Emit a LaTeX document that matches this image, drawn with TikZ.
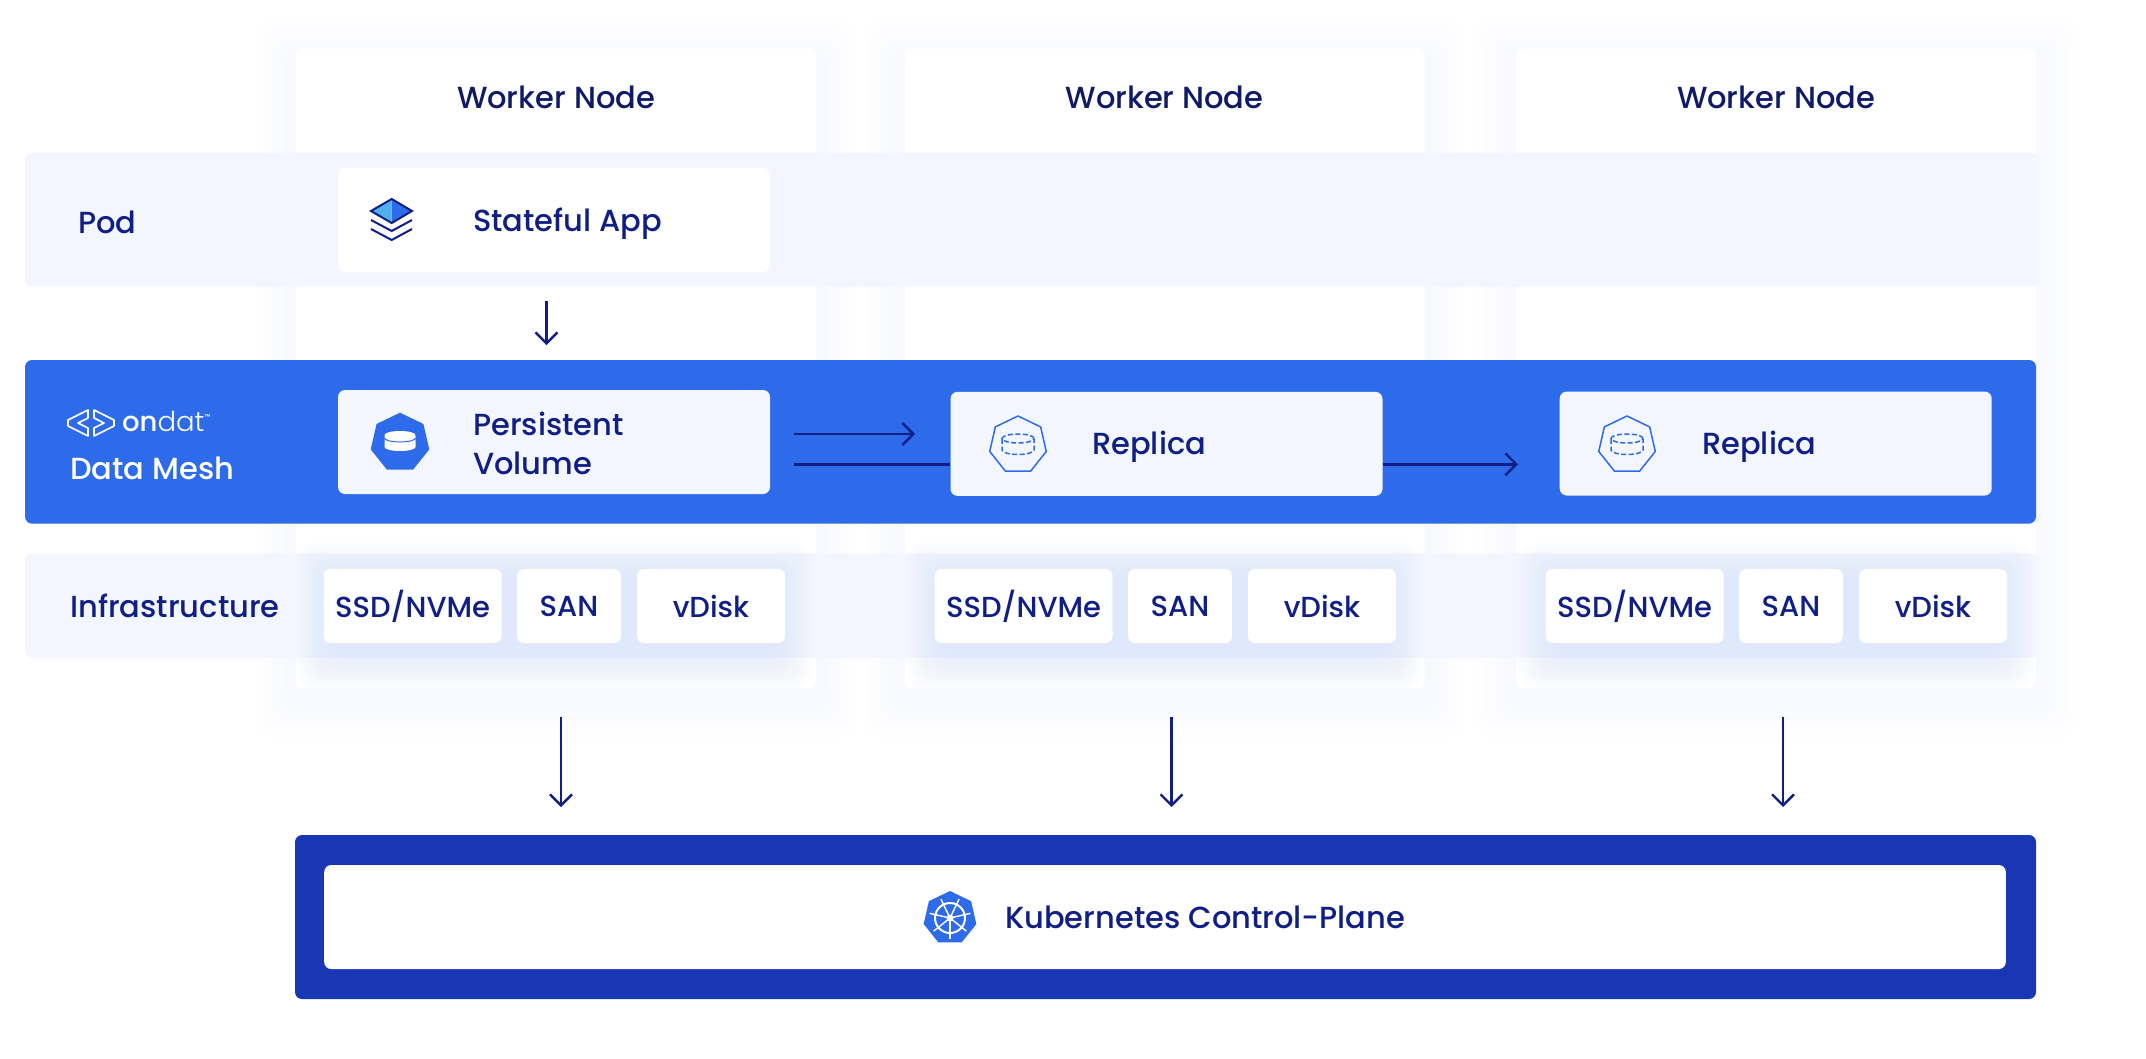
\documentclass[tikz,border=0pt]{standalone}
\usepackage{fontspec}
\setmainfont{Poppins Medium}
\newfontfamily\ondatlight{Poppins Light}
\usepackage{tikz}
\usetikzlibrary{arrows.meta,shapes.geometric}
\definecolor{navy}{HTML}{101F86}
\definecolor{inknavy}{HTML}{0F1A68}
\definecolor{paleband}{HTML}{F3F6FE}
\definecolor{meshblue}{HTML}{2D6BEA}
\definecolor{darkblue}{HTML}{1936B5}
\definecolor{skyblue}{HTML}{4FB0F0}
\definecolor{glow}{HTML}{D3E0FB}
\definecolor{faintglow}{HTML}{C8D4F8}
\tikzstyle{plainbox}=[rectangle,rounded corners=7pt,minimum width=#1,inner sep=0pt]
\tikzstyle{worker}=[plainbox=520pt,fill=white,minimum height=640pt]
\tikzstyle{band}=[plainbox=2014pt,fill=paleband]
\tikzstyle{tile}=[plainbox=432pt,minimum height=104pt]
\tikzstyle{disk}=[plainbox=#1,fill=white,minimum height=74pt,font=\fontsize{29}{34}\selectfont,text=navy]
\tikzstyle{label}=[anchor=west,inner sep=0pt,font=\fontsize{30.5}{36}\selectfont,text=navy]
\tikzstyle{heptagon}=[regular polygon,regular polygon sides=7,minimum size=60pt,inner sep=0pt]
\tikzstyle{flow} = [draw=navy,line width=2.4pt,-{Straight Barb[length=11pt,width=22pt]}]
\newcommand{\softglow}[8]{%
    \foreach \i in {1,...,#7}
        \fill[#5,opacity=#6,rounded corners=18pt] ({#1-#8*\i},{#2-#8*\i+10}) rectangle ({#3+#8*\i},{#4+#8*\i+10});
}
\begin{document}
\begin{tikzpicture}[x=1pt,y=-1pt]
    \useasboundingbox (0,0) rectangle (2146,1058);

    % worker columns
    \foreach \cx/ \name in {556/workerA,1164.5/workerB,1776/workerC} {
        \softglow{\cx-260}{49}{\cx+260}{688}{faintglow}{0.02}{8}{5}
        \node[worker] (\name) at (\cx,368.5) {};
        \node[font=\fontsize{30.5}{36}\selectfont,text=inknavy] (\name title) at (\cx,97) {Worker Node};
    }

    % rows
    \node[band,minimum height=133.5pt] (podband) at (1032,219.75) {};
    \node[band,minimum height=104pt] (infraband) at (1032,605.5) {};
    \node[plainbox=2011pt,fill=meshblue,minimum height=163.6pt] (meshband) at (1030.5,441.8) {};
    \node[plainbox=1741pt,fill=darkblue,minimum height=164pt] (controlband) at (1165.5,917) {};
    \node[plainbox=1681.6pt,fill=white,minimum height=104pt] (controlbox) at (1165,917) {};

    % tiles in the rows
    \node[tile,fill=white] (app) at (554,219.85) {};
    \foreach \pos/ \name in {{(554,442)/pv},{(1166.5,443.85)/replicaA},{(1775.7,443.5)/replicaB}}
        \node[tile,fill=paleband] (\name) at \pos {};

    \foreach \dx/ \col in {0/A,611/B,1222/C} {
        \softglow{333+\dx}{569}{775+\dx}{643}{glow}{0.05}{12}{3}
    }
    \foreach \dx/ \col in {0/A,611/B,1222/C} {
        \node[disk=178pt] (ssd\col) at (412.6+\dx,606) {SSD/NVMe};
        \node[disk=104pt] (san\col) at (569+\dx,606) {SAN};
        \node[disk=148pt] (vdisk\col) at (711+\dx,606) {vDisk};
    }

    % row and tile labels
    \node[label] (podlabel) at (78,222) {Pod};
    \node[label,text=white] (meshlabel) at (70,468) {Data Mesh};
    \node[label] (infralabel) at (70,606) {Infrastructure};
    \node[label] (applabel) at (473,224) {Stateful App};
    \node[label] (pvlabelA) at (473,424) {Persistent};
    \node[label] (pvlabelB) at (473,463) {Volume};
    \node[label] (replicalabelA) at (1092,447) {Replica};
    \node[label] (replicalabelB) at (1702,447) {Replica};
    \node[label] (controllabel) at (1005,917) {Kubernetes Control-Plane};

    % ondat mark
    \draw[white,line width=1.6pt,line join=round] (88,410) -- (68,420) -- (68,426) -- (88,436) -- (88,428) -- (78,423) -- (88,418) -- cycle;
    \draw[white,line width=1.6pt,line join=round] (94,410) -- (114,420) -- (114,426) -- (94,436) -- (94,428) -- (104,423) -- (94,418) -- cycle;
    \node[anchor=west,inner sep=0pt,text=white,font=\fontsize{27.5}{33}\selectfont] (ondat) at (122,421) {on{\ondatlight dat}\raisebox{12pt}{\fontsize{7}{8}\selectfont ™}};

    % stack icon
    \fill[meshblue] (391.7,199) -- (412,211) -- (391.7,223) -- cycle;
    \fill[skyblue] (391.7,199) -- (371,211) -- (391.7,223) -- cycle;
    \draw[navy,line width=2pt] (391.7,199) -- (412,211) -- (391.7,223) -- (371,211) -- cycle;
    \foreach \y in {220,229}
        \draw[navy,line width=2pt] (371,\y) -- (391.7,\y+11) -- (412,\y);

    % volume icons
    \node[heptagon,fill=meshblue] (pvicon) at (400,442.7) {};
    \fill[white] (384.5,436) -- (384.5,447) arc[start angle=180,end angle=360,x radius=15.5pt,y radius=4pt] -- (415.5,436) -- cycle;
    \fill[white] (400,435) ellipse (15.5pt and 4pt);
    \draw[meshblue,line width=1pt] (384.5,438) arc[start angle=180,end angle=360,x radius=15.5pt,y radius=4pt];
    \foreach \cx/ \name in {1018/iconA,1627/iconB} {
        \node[heptagon,draw=meshblue,line width=1.5pt,minimum size=58pt] (\name) at (\cx,445) {};
        \draw[meshblue,line width=1.5pt,dashed,dash pattern=on 5pt off 2.5pt] (\cx,438.5) ellipse (16pt and 4.5pt);
        \draw[meshblue,line width=1.5pt,dashed,dash pattern=on 5pt off 2.5pt] (\cx-16,439) -- (\cx-16,450) arc[start angle=180,end angle=360,x radius=16pt,y radius=4.5pt] -- (\cx+16,439);
    }

    % wheel icon
    \node[heptagon,fill=meshblue,minimum size=54pt] (wheelicon) at (950,918) {};
    \draw[white,line width=2pt] (wheelicon.center) circle (15pt);
    \fill[white] (wheelicon.center) circle (3.5pt);
    \foreach \a in {90,141.4,192.9,244.3,295.7,347.1,38.6}
        \draw[white,line width=1.4pt] (wheelicon.center) -- ++(\a:-21pt);

    % arrows
    \coordinate (appout) at (546.5,301);
    \coordinate (pvin) at (546.5,345);
    \coordinate (pvoutA) at (794,434);
    \coordinate (pvoutB) at (794,464.3);
    \coordinate (repinA) at (915,434);
    \coordinate (repinB) at (1518,464.3);
    \path[flow] (appout) -- (pvin);
    \path[flow] (pvoutA) -- (repinA);
    \draw[navy,line width=2.4pt] (pvoutB) -- (pvoutB -| replicaA.west);
    \path[flow] (replicaA.east |- pvoutB) -- (repinB);
    \foreach \x/ \name in {561/A,1171.5/B,1783/C} {
        \coordinate (down\name) at (\x,717);
        \coordinate (end\name) at (\x,807);
        \path[flow] (down\name) -- (end\name);
    }
\end{tikzpicture}
\end{document}
